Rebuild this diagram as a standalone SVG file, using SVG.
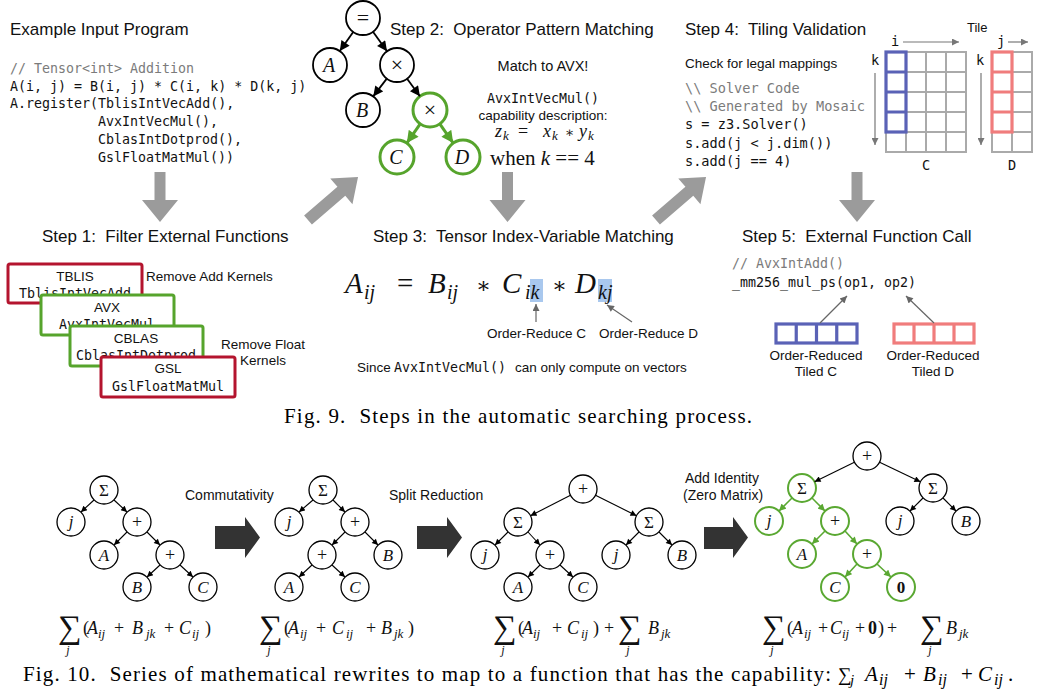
<svg xmlns="http://www.w3.org/2000/svg" width="1043" height="700" viewBox="0 0 1043 700">
<style>
text { fill:#111; }
.h { font-family:"Liberation Sans", Arial, sans-serif; font-size:17px; }
.s13 { font-family:"Liberation Sans", Arial, sans-serif; font-size:13.5px; }
.s14 { font-family:"Liberation Sans", Arial, sans-serif; font-size:14px; }
.mono { font-family:"DejaVu Sans Mono", "Liberation Mono", monospace; font-size:13.3px; }
.m14 { font-size:13.6px; }
.cm { fill:#7b7b7b; }
.mi { font-family:"Liberation Serif", serif; font-style:italic; }
.mu { font-family:"Liberation Serif", serif; font-style:normal; }
.cap { font-family:"Liberation Serif", serif; font-size:21px; fill:#000; }
.mid { text-anchor:middle; }
.ga { fill:#9b9b9b; }
.da { fill:#333; }
.n { fill:#fff; stroke:#000; stroke-width:1.8; }
.ng { fill:#fff; stroke:#56a42c; stroke-width:3; }
.bn { fill:#fff; stroke:#000; stroke-width:1.3; }
.bng { fill:#fff; stroke:#5aa832; stroke-width:2; }
.e { fill:none; stroke:#000; stroke-width:1.8; marker-end:url(#ab); }
.eg { fill:none; stroke:#56a42c; stroke-width:3; marker-end:url(#ag); }
.be { fill:none; stroke:#000; stroke-width:1.1; marker-end:url(#as); }
.beg { fill:none; stroke:#5aa832; stroke-width:1.6; marker-end:url(#asg); }
.gl { fill:none; stroke:#666; stroke-width:1.2; marker-end:url(#agr); }
.tl { fill:none; stroke:#777; stroke-width:1.2; marker-end:url(#atl); }
.grid { fill:none; stroke:#aaa; stroke-width:2; }
.blue { fill:none; stroke:#5a62b6; stroke-width:3.2; }
.red { fill:none; stroke:#f07c7c; stroke-width:3.2; }
.box-r { fill:#fff; stroke:#b4142e; stroke-width:3; }
.box-g { fill:#fff; stroke:#56a42c; stroke-width:3; }
.hl { fill:#a9c8ee; }
.sig { font-family:"Liberation Serif", serif; font-size:33px; }
</style>
<defs>
<marker id="ab" viewBox="0 0 10 10" refX="10" refY="5" markerWidth="11" markerHeight="10" markerUnits="userSpaceOnUse" orient="auto"><path d="M0,0 L10,5 L0,10 z" fill="#000"/></marker>
<marker id="ag" viewBox="0 0 10 10" refX="10" refY="5" markerWidth="13" markerHeight="12" markerUnits="userSpaceOnUse" orient="auto"><path d="M0,0 L10,5 L0,10 z" fill="#56a42c"/></marker>
<marker id="as" viewBox="0 0 10 10" refX="10" refY="5" markerWidth="7" markerHeight="6" markerUnits="userSpaceOnUse" orient="auto"><path d="M0,0 L10,5 L0,10 z" fill="#000"/></marker>
<marker id="asg" viewBox="0 0 10 10" refX="10" refY="5" markerWidth="8" markerHeight="7" markerUnits="userSpaceOnUse" orient="auto"><path d="M0,0 L10,5 L0,10 z" fill="#5aa832"/></marker>
<marker id="agr" viewBox="0 0 10 10" refX="10" refY="5" markerWidth="9" markerHeight="7" markerUnits="userSpaceOnUse" orient="auto"><path d="M0,0 L10,5 L0,10 z" fill="#666"/></marker>
<marker id="atl" viewBox="0 0 10 10" refX="10" refY="5" markerWidth="9" markerHeight="7" markerUnits="userSpaceOnUse" orient="auto"><path d="M0,0 L10,5 L0,10 z" fill="#777"/></marker>
</defs>
<rect width="1043" height="700" fill="#fff"/>

<!-- ===== Example input program ===== -->
<g id="input-program">
<text class="h" x="10" y="35">Example Input Program</text>
<text class="mono cm" x="10" y="73">// Tensor&lt;int&gt; Addition</text>
<text class="mono" x="10" y="91">A(i, j) = B(i, j) * C(i, k) * D(k, j)</text>
<text class="mono" x="10" y="108">A.register(TblisIntVecAdd(),</text>
<text class="mono" x="98" y="126">AvxIntVecMul(),</text>
<text class="mono" x="98" y="144">CblasIntDotprod(),</text>
<text class="mono" x="98" y="162">GslFloatMatMul())</text>
</g>

<!-- ===== Step 1 ===== -->
<g id="step1">
<text class="h" x="42" y="242" xml:space="preserve">Step 1:  Filter External Functions</text>
<g id="box-tblis"><rect class="box-r" x="8" y="264" width="134" height="39" rx="2"/><text class="s13 mid" x="75" y="281">TBLIS</text><text class="mono mid" x="75" y="298">TblisIntVecAdd</text></g>
<g id="box-avx"><rect class="box-g" x="41" y="295" width="133" height="40" rx="2"/><text class="s13 mid" x="107" y="312">AVX</text><text class="mono mid" x="107" y="329">AvxIntVecMul</text></g>
<g id="box-cblas"><rect class="box-g" x="70" y="326" width="133" height="40" rx="2"/><text class="s13 mid" x="136" y="343">CBLAS</text><text class="mono mid" x="136" y="360">CblasIntDotprod</text></g>
<g id="box-gsl"><rect class="box-r" x="101" y="357" width="134" height="40" rx="2"/><text class="s13 mid" x="168" y="373">GSL</text><text class="mono mid" x="168" y="391">GslFloatMatMul</text></g>
<text class="s13" x="146" y="281">Remove Add Kernels</text>
<text class="s13 mid" x="263" y="349">Remove Float</text>
<text class="s13 mid" x="263" y="365">Kernels</text>
</g>

<!-- ===== Step 2 ===== -->
<g id="step2">
<text class="h" x="390" y="35" xml:space="preserve">Step 2:  Operator Pattern Matching</text>
<text class="s13 mid" x="543" y="71" style="font-size:14.5px">Match to AVX!</text>
<text class="mono mid" x="543" y="103">AvxIntVecMul()</text>
<text class="s13 mid" x="543" y="120">capability description:</text>
<text class="mi" y="137" font-size="18"><tspan x="495">z</tspan><tspan x="503" y="140" font-size="13">k</tspan><tspan class="mu" x="518" y="137">=</tspan><tspan x="543">x</tspan><tspan x="552" y="140" font-size="13">k</tspan><tspan style="font-family:'DejaVu Serif',serif;font-style:normal" x="565" y="137" font-size="14">∗</tspan><tspan x="579" y="137">y</tspan><tspan x="588" y="140" font-size="13">k</tspan></text>
<text class="mu" x="490" y="165" font-size="21" xml:space="preserve">when <tspan class="mi">k</tspan> == 4</text>
</g>
<g id="n2-eq"><circle class="n" cx="363" cy="18" r="17"/><text class="mu mid" x="363" y="25" font-size="22">=</text></g>
<g id="n2-A"><circle class="n" cx="330" cy="65" r="17"/><text class="mi mid" x="329" y="72" font-size="20">A</text></g>
<g id="n2-mul1"><circle class="n" cx="397" cy="65" r="17"/><text class="mu mid" x="397" y="72" font-size="22">×</text></g>
<g id="n2-B"><circle class="n" cx="363" cy="110" r="17"/><text class="mi mid" x="362" y="117" font-size="20">B</text></g>
<g id="n2-mul2"><circle class="ng" cx="430" cy="110" r="17"/><text class="mu mid" x="430" y="117" font-size="22">×</text></g>
<g id="n2-C"><circle class="ng" cx="397" cy="157" r="17"/><text class="mi mid" x="396" y="164" font-size="20">C</text></g>
<g id="n2-D"><circle class="ng" cx="463" cy="157" r="17"/><text class="mi mid" x="462" y="164" font-size="20">D</text></g>

<!-- ===== Step 3 ===== -->
<g id="step3">
<text class="h" x="373" y="242" xml:space="preserve">Step 3:  Tensor Index-Variable Matching</text>
<rect class="hl" x="530" y="279" width="13" height="23"/>
<rect class="hl" x="598" y="279" width="14" height="23"/>
<text class="mi" y="293" font-size="29"><tspan x="345">A</tspan><tspan x="364" y="299" font-size="20">ij</tspan><tspan class="mu" x="397" y="293">=</tspan><tspan x="428">B</tspan><tspan x="447" y="299" font-size="20">ij</tspan><tspan style="font-family:'DejaVu Serif',serif;font-style:normal" x="476" y="293" font-size="22">∗</tspan><tspan x="502" y="293">C</tspan><tspan x="525" y="299" font-size="20">ik</tspan><tspan style="font-family:'DejaVu Serif',serif;font-style:normal" x="552" y="293" font-size="22">∗</tspan><tspan x="575" y="293">D</tspan><tspan x="598" y="299" font-size="20">kj</tspan></text>
<text class="s13" x="487" y="338">Order-Reduce C</text>
<text class="s13" x="599" y="338">Order-Reduce D</text>
<text class="s13" x="357" y="372">Since</text>
<text class="mono" x="394" y="372">AvxIntVecMul()</text>
<text class="s13" x="515" y="372">can only compute on vectors</text>
</g>

<!-- ===== Step 4 ===== -->
<g id="step4">
<text class="h" x="685" y="35" xml:space="preserve">Step 4:  Tiling Validation</text>
<text class="s13" x="685" y="68">Check for legal mappings</text>
<text class="mono m14 cm" x="685" y="93">\\ Solver Code</text>
<text class="mono m14 cm" x="685" y="111">\\ Generated by Mosaic</text>
<text class="mono m14" x="685" y="129">s = z3.Solver()</text>
<text class="mono m14" x="685" y="148">s.add(j &lt; j.dim())</text>
<text class="mono m14" x="685" y="166">s.add(j == 4)</text>
</g>
<g id="tile-C">
<rect class="grid" x="886" y="52" width="80" height="100"/>
<path class="grid" d="M906,52V152 M926,52V152 M946,52V152 M886,72H966 M886,92H966 M886,112H966 M886,132H966"/>
<rect class="blue" x="886" y="52" width="20" height="80"/>
<path class="blue" d="M886,72H906 M886,92H906 M886,112H906"/>
<text class="mono m14 mid" x="926" y="170">C</text>
<text class="mono m14" x="891" y="46">i</text>
<text class="mono m14" x="871" y="65">k</text>
</g>
<g id="tile-D">
<rect class="grid" x="992" y="52" width="40" height="100"/>
<path class="grid" d="M1012,52V152 M992,72H1032 M992,92H1032 M992,112H1032 M992,132H1032"/>
<rect class="red" x="992" y="52" width="20" height="80"/>
<path class="red" d="M992,72H1012 M992,92H1012 M992,112H1012"/>
<text class="mono m14 mid" x="1012" y="170">D</text>
<text class="mono m14" x="997" y="46">j</text>
<text class="mono m14" x="976" y="65">k</text>
</g>
<text class="s13" x="967" y="32" style="font-size:13px">Tile</text>

<!-- ===== Step 5 ===== -->
<g id="step5">
<text class="h" x="742" y="242" xml:space="preserve">Step 5:  External Function Call</text>
<text class="mono cm" x="732" y="268">// AvxIntAdd()</text>
<text class="mono" x="732" y="287">_mm256_mul_ps(op1, op2)</text>
</g>
<g id="vec-C">
<rect class="blue" x="776" y="324" width="81" height="19"/>
<path class="blue" d="M796.25,324V343 M816.5,324V343 M836.75,324V343"/>
<text class="s13 mid" x="816" y="360">Order-Reduced</text>
<text class="s13 mid" x="816" y="376">Tiled C</text>
</g>
<g id="vec-D">
<rect class="red" x="894" y="324" width="80" height="19"/>
<path class="red" d="M914,324V343 M934,324V343 M954,324V343"/>
<text class="s13 mid" x="933" y="360">Order-Reduced</text>
<text class="s13 mid" x="933" y="376">Tiled D</text>
</g>

<!-- ===== Fig 9 caption ===== -->
<text class="cap" x="284" y="423" textLength="468" lengthAdjust="spacing" xml:space="preserve">Fig. 9.  Steps in the automatic searching process.</text>

<!-- ===== Fig 10 ===== -->
<text class="s14" x="185" y="500">Commutativity</text>
<text class="s14" x="389" y="500">Split Reduction</text>
<text class="s14" x="685" y="483">Add Identity</text>
<text class="s14" x="683" y="500">(Zero Matrix)</text>

<!-- tree 1 -->
<g id="t1-sum"><circle class="bn" cx="104" cy="490" r="14"/><text class="mu mid" x="104" y="496" font-size="17">Σ</text></g>
<g id="t1-j"><circle class="bn" cx="71" cy="522" r="14"/><text class="mi mid" x="71" y="527" font-size="17">j</text></g>
<g id="t1-p1"><circle class="bn" cx="137" cy="522" r="14"/><text class="mu mid" x="137" y="528" font-size="18">+</text></g>
<g id="t1-A"><circle class="bn" cx="104" cy="555" r="14"/><text class="mi mid" x="104" y="561" font-size="17">A</text></g>
<g id="t1-p2"><circle class="bn" cx="170" cy="555" r="14"/><text class="mu mid" x="170" y="561" font-size="18">+</text></g>
<g id="t1-B"><circle class="bn" cx="137" cy="587" r="14"/><text class="mi mid" x="137" y="593" font-size="17">B</text></g>
<g id="t1-C"><circle class="bn" cx="203" cy="587" r="14"/><text class="mi mid" x="203" y="593" font-size="17">C</text></g>

<!-- tree 2 -->
<g id="t2-sum"><circle class="bn" cx="323" cy="490" r="14"/><text class="mu mid" x="323" y="496" font-size="17">Σ</text></g>
<g id="t2-j"><circle class="bn" cx="289" cy="522" r="14"/><text class="mi mid" x="289" y="527" font-size="17">j</text></g>
<g id="t2-p1"><circle class="bn" cx="355" cy="522" r="14"/><text class="mu mid" x="355" y="528" font-size="18">+</text></g>
<g id="t2-p2"><circle class="bn" cx="322" cy="555" r="14"/><text class="mu mid" x="322" y="561" font-size="18">+</text></g>
<g id="t2-B"><circle class="bn" cx="388" cy="555" r="14"/><text class="mi mid" x="388" y="561" font-size="17">B</text></g>
<g id="t2-A"><circle class="bn" cx="289" cy="587" r="14"/><text class="mi mid" x="289" y="593" font-size="17">A</text></g>
<g id="t2-C"><circle class="bn" cx="355" cy="587" r="14"/><text class="mi mid" x="355" y="593" font-size="17">C</text></g>

<!-- tree 3 -->
<g id="t3-p0"><circle class="bn" cx="583" cy="489" r="14"/><text class="mu mid" x="583" y="495" font-size="18">+</text></g>
<g id="t3-sum1"><circle class="bn" cx="518" cy="522" r="14"/><text class="mu mid" x="518" y="528" font-size="17">Σ</text></g>
<g id="t3-sum2"><circle class="bn" cx="649" cy="522" r="14"/><text class="mu mid" x="649" y="528" font-size="17">Σ</text></g>
<g id="t3-j1"><circle class="bn" cx="485" cy="555" r="14"/><text class="mi mid" x="485" y="560" font-size="17">j</text></g>
<g id="t3-p1"><circle class="bn" cx="550" cy="555" r="14"/><text class="mu mid" x="550" y="561" font-size="18">+</text></g>
<g id="t3-j2"><circle class="bn" cx="616" cy="555" r="14"/><text class="mi mid" x="616" y="560" font-size="17">j</text></g>
<g id="t3-B"><circle class="bn" cx="682" cy="555" r="14"/><text class="mi mid" x="682" y="561" font-size="17">B</text></g>
<g id="t3-A"><circle class="bn" cx="518" cy="587" r="14"/><text class="mi mid" x="518" y="593" font-size="17">A</text></g>
<g id="t3-C"><circle class="bn" cx="583" cy="587" r="14"/><text class="mi mid" x="583" y="593" font-size="17">C</text></g>

<!-- tree 4 -->
<g id="t4-p0"><circle class="bn" cx="867" cy="456" r="14"/><text class="mu mid" x="867" y="462" font-size="18">+</text></g>
<g id="t4-sum1"><circle class="bng" cx="802" cy="488" r="14"/><text class="mu mid" x="802" y="494" font-size="17">Σ</text></g>
<g id="t4-sum2"><circle class="bn" cx="933" cy="488" r="14"/><text class="mu mid" x="933" y="494" font-size="17">Σ</text></g>
<g id="t4-j1"><circle class="bng" cx="769" cy="521" r="14"/><text class="mi mid" x="769" y="526" font-size="17">j</text></g>
<g id="t4-p1"><circle class="bng" cx="835" cy="521" r="14"/><text class="mu mid" x="835" y="527" font-size="18">+</text></g>
<g id="t4-j2"><circle class="bn" cx="900" cy="521" r="14"/><text class="mi mid" x="900" y="526" font-size="17">j</text></g>
<g id="t4-B"><circle class="bn" cx="966" cy="521" r="14"/><text class="mi mid" x="966" y="527" font-size="17">B</text></g>
<g id="t4-A"><circle class="bng" cx="802" cy="554" r="14"/><text class="mi mid" x="802" y="560" font-size="17">A</text></g>
<g id="t4-p2"><circle class="bng" cx="867" cy="554" r="14"/><text class="mu mid" x="867" y="560" font-size="18">+</text></g>
<g id="t4-C"><circle class="bng" cx="835" cy="587" r="14"/><text class="mi mid" x="835" y="593" font-size="17">C</text></g>
<g id="t4-0"><circle class="bng" cx="901" cy="587" r="14"/><text class="mu mid" x="901" y="593" font-size="17" font-weight="bold">0</text></g>

<!-- formulas -->
<g id="formula1">
<text class="sig" x="58" y="638">∑</text>
<text class="mi mid" x="68" y="654" font-size="12">j</text>
<text class="mu" y="634" font-size="18"><tspan x="83">(</tspan><tspan class="mi" x="87">A</tspan><tspan class="mi" x="98" y="638" font-size="13">ij</tspan><tspan x="114" y="634">+</tspan><tspan class="mi" x="132">B</tspan><tspan class="mi" x="146" y="638" font-size="13">jk</tspan><tspan x="164" y="634">+</tspan><tspan class="mi" x="179">C</tspan><tspan class="mi" x="192" y="638" font-size="13">ij</tspan><tspan x="205" y="634">)</tspan></text>
</g>
<g id="formula2">
<text class="sig" x="259" y="638">∑</text>
<text class="mi mid" x="269" y="654" font-size="12">j</text>
<text class="mu" y="634" font-size="18"><tspan x="284">(</tspan><tspan class="mi" x="288">A</tspan><tspan class="mi" x="300" y="638" font-size="13">ij</tspan><tspan x="316" y="634">+</tspan><tspan class="mi" x="332">C</tspan><tspan class="mi" x="346" y="638" font-size="13">ij</tspan><tspan x="366" y="634">+</tspan><tspan class="mi" x="381">B</tspan><tspan class="mi" x="394" y="638" font-size="13">jk</tspan><tspan x="408" y="634">)</tspan></text>
</g>
<g id="formula3">
<text class="sig" x="493" y="638">∑</text>
<text class="mi mid" x="503" y="654" font-size="12">j</text>
<text class="mu" y="634" font-size="18"><tspan x="518">(</tspan><tspan class="mi" x="522">A</tspan><tspan class="mi" x="533" y="638" font-size="13">ij</tspan><tspan x="552" y="634">+</tspan><tspan class="mi" x="567">C</tspan><tspan class="mi" x="581" y="638" font-size="13">ij</tspan><tspan x="593" y="634">)</tspan><tspan x="604">+</tspan></text>
<text class="sig" x="618" y="638">∑</text>
<text class="mi mid" x="628" y="654" font-size="12">j</text>
<text class="mi" y="634" font-size="18"><tspan x="648">B</tspan><tspan x="661" y="638" font-size="13">jk</tspan></text>
</g>
<g id="formula4">
<text class="sig" x="762" y="638">∑</text>
<text class="mi mid" x="772" y="654" font-size="12">j</text>
<text class="mu" y="634" font-size="18"><tspan x="787">(</tspan><tspan class="mi" x="792">A</tspan><tspan class="mi" x="804" y="638" font-size="13">ij</tspan><tspan x="818" y="634">+</tspan><tspan class="mi" x="830">C</tspan><tspan class="mi" x="842" y="638" font-size="13">ij</tspan><tspan x="855" y="634">+</tspan><tspan x="868" font-weight="bold">0</tspan><tspan x="878">)</tspan><tspan x="887">+</tspan></text>
<text class="sig" x="920" y="638">∑</text>
<text class="mi mid" x="930" y="654" font-size="12">j</text>
<text class="mi" y="634" font-size="18"><tspan x="946">B</tspan><tspan x="959" y="638" font-size="13">jk</tspan></text>
</g>

<!-- Fig 10 caption -->
<text class="cap" x="23" y="681" textLength="808" lengthAdjust="spacing" xml:space="preserve">Fig. 10.  Series of mathematical rewrites to map to a function that has the capability:</text>
<text class="cap" y="681"><tspan x="838" font-size="19">∑</tspan><tspan class="mi" x="850" y="685" font-size="15">j</tspan><tspan class="mi" x="865" y="681">A</tspan><tspan class="mi" x="879" y="685" font-size="16">ij</tspan><tspan x="904" y="681">+</tspan><tspan class="mi" x="923">B</tspan><tspan class="mi" x="938" y="685" font-size="16">ij</tspan><tspan x="961" y="681">+</tspan><tspan class="mi" x="978">C</tspan><tspan class="mi" x="994" y="685" font-size="16">ij</tspan><tspan x="1008" y="681">.</tspan></text>

<!-- ===== connectors ===== -->
<g id="connectors">
<g id="flow-arrows">
<polygon class="ga" points="154.5,172 165.5,172 165.5,200 178,200 160,222 142,200 154.5,200"/>
<polygon class="ga" points="502,172 513,172 513,200 525.5,200 507.5,222 489.5,200 502,200"/>
<polygon class="ga" points="851.5,172 862.5,172 862.5,200 875,200 857,222 839,200 851.5,200"/>
<polygon class="ga" transform="translate(308,220) rotate(-40.7)" points="0,-6 44,-6 44,-17 66,0 44,17 44,6 0,6"/>
<polygon class="ga" transform="translate(656,220) rotate(-40.7)" points="0,-6 44,-6 44,-17 66,0 44,17 44,6 0,6"/>
<polygon class="da" points="215,526 245,526 245,517 260,537.5 245,558 245,549 215,549"/>
<polygon class="da" points="417,526 447,526 447,517 462,537.5 447,558 447,549 417,549"/>
<polygon class="da" points="704,527 733,527 733,517 748,537.5 733,558 733,549 704,549"/>
</g>
<g id="step2-edges">
<line class="e" x1="353.2" y1="31.9" x2="339.8" y2="51.1"/>
<line class="e" x1="373" y1="31.8" x2="387" y2="51.2"/>
<line class="e" x1="386.8" y1="78.6" x2="373.2" y2="96.4"/>
<line class="e" x1="407.1" y1="78.7" x2="419.9" y2="96.3"/>
<line class="eg" x1="420.2" y1="123.9" x2="406.8" y2="143.1"/>
<line class="eg" x1="439.8" y1="123.9" x2="453.2" y2="143.1"/>
</g>
<g id="pointer-arrows">
<line class="gl" x1="536" y1="322" x2="536" y2="304"/>
<line class="gl" x1="632" y1="322" x2="607" y2="305"/>
<line class="gl" x1="820" y1="323" x2="847" y2="296"/>
<line class="gl" x1="934" y1="323" x2="906" y2="296"/>
<line class="tl" x1="903" y1="42" x2="959" y2="42"/>
<line class="tl" x1="1008" y1="42" x2="1028" y2="42"/>
<line class="tl" x1="875" y1="73" x2="875" y2="145"/>
<line class="tl" x1="981" y1="73" x2="981" y2="145"/>
</g>
<g id="tree1-edges">
<path class="be" d="M94,500 L81,512"/>
<path class="be" d="M114,500 L127,512"/>
<path class="be" d="M127,532 L114,545"/>
<path class="be" d="M147,532 L160,545"/>
<path class="be" d="M160,565 L147,577"/>
<path class="be" d="M180,565 L193,577"/>
</g>
<g id="tree2-edges">
<path class="be" d="M313,500 L299,512"/>
<path class="be" d="M333,500 L345,512"/>
<path class="be" d="M345,532 L332,545"/>
<path class="be" d="M365,532 L378,545"/>
<path class="be" d="M312,565 L299,577"/>
<path class="be" d="M332,565 L345,577"/>
</g>
<g id="tree3-edges">
<path class="be" d="M570.5,495.3 L530.5,515.7"/>
<path class="be" d="M595.5,495.3 L636.5,515.7"/>
<path class="be" d="M508,532 L495,545"/>
<path class="be" d="M528,532 L540,545"/>
<path class="be" d="M639,532 L626,545"/>
<path class="be" d="M659,532 L672,545"/>
<path class="be" d="M540,565 L528,577"/>
<path class="be" d="M560,565 L573,577"/>
</g>
<g id="tree4-edges">
<path class="be" d="M854.4,462.2 L814.6,481.8"/>
<path class="be" d="M879.6,462.2 L920.4,481.8"/>
<path class="beg" d="M792,498 L779,511"/>
<path class="beg" d="M812,498 L825,511"/>
<path class="be" d="M923,498 L910,511"/>
<path class="be" d="M943,498 L956,511"/>
<path class="beg" d="M825,531 L812,544"/>
<path class="beg" d="M845,531 L857,544"/>
<path class="beg" d="M857,564 L845,577"/>
<path class="beg" d="M877,564 L891,577"/>
</g>
</g>
</svg>
